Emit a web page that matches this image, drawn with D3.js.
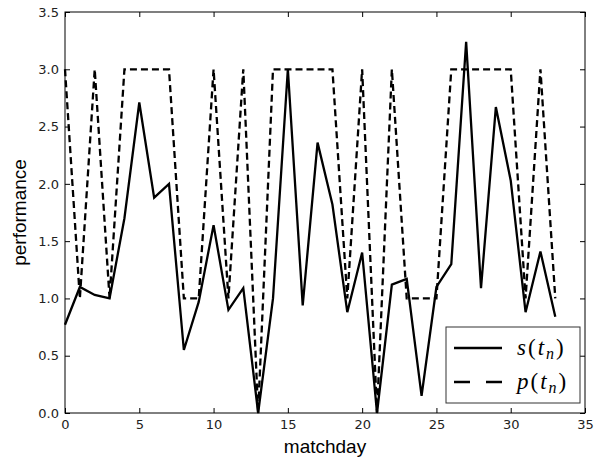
<!DOCTYPE html>
<html>
<head>
<meta charset="utf-8">
<script src="https://cdn.jsdelivr.net/npm/d3@7"></script>
<style>
  body { margin: 0; background: #fff; }
  svg { display: block; }
</style>
</head>
<body>
<div id="chart"></div>
<script>
// matchdays 0..33
const matchdays = d3.range(0, 34);

// s(t_n) - solid line
const sValues = [0.77, 1.10, 1.03, 1.00, 1.70, 2.71, 1.88, 2.00, 0.55, 0.97,
                 1.64, 0.90, 1.09, 0.00, 1.00, 3.00, 0.94, 2.36, 1.82, 0.88,
                 1.40, 0.00, 1.12, 1.17, 0.15, 1.10, 1.30, 3.24, 1.09, 2.67,
                 2.03, 0.88, 1.41, 0.84];

// p(t_n) - dashed line
const pValues = [3, 1, 3, 1, 3, 3, 3, 3, 1, 1,
                 3, 1, 3, 0, 3, 3, 3, 3, 3, 1,
                 3, 0, 3, 1, 1, 1, 3, 3, 3, 3,
                 3, 1, 3, 1];

const xTicks = [0, 5, 10, 15, 20, 25, 30, 35];
const yTicks = [0, 0.5, 1, 1.5, 2, 2.5, 3, 3.5];

const W = 609, H = 463;
const margin = { top: 12, right: 24, bottom: 50, left: 65 };
const width = W - margin.left - margin.right;
const height = H - margin.top - margin.bottom;

const svg = d3.select("#chart").append("svg")
    .attr("width", W)
    .attr("height", H);

const g = svg.append("g")
    .attr("transform", `translate(${margin.left},${margin.top})`);

const x = d3.scaleLinear().domain([0, 35]).range([0, width]);
const y = d3.scaleLinear().domain([0, 3.5]).range([height, 0]);

const tickFont = "DejaVu Sans, sans-serif";
const labelFont = "Liberation Sans, Arial, sans-serif";

// axes with inward ticks
function styleAxis(sel, showText) {
    sel.select(".domain").remove();
    sel.selectAll(".tick line").attr("stroke", "#000").attr("stroke-width", 1);
    sel.selectAll(".tick text")
        .attr("font-family", tickFont)
        .attr("font-size", 13)
        .attr("fill", "#222")
        .style("display", showText ? null : "none");
}

g.append("g")
    .attr("transform", `translate(0,${height})`)
    .call(d3.axisBottom(x).tickValues(xTicks).tickFormat(d3.format("d"))
        .tickSizeInner(-5).tickSizeOuter(0).tickPadding(7))
    .call(s => styleAxis(s, true));

g.append("g")
    .call(d3.axisTop(x).tickValues(xTicks).tickSizeInner(-5).tickSizeOuter(0))
    .call(s => styleAxis(s, false));

g.append("g")
    .call(d3.axisLeft(y).tickValues(yTicks).tickFormat(d3.format(".1f"))
        .tickSizeInner(-5).tickSizeOuter(0).tickPadding(6))
    .call(s => styleAxis(s, true));

g.append("g")
    .attr("transform", `translate(${width},0)`)
    .call(d3.axisRight(y).tickValues(yTicks).tickSizeInner(-5).tickSizeOuter(0))
    .call(s => styleAxis(s, false));

// lines
const sData = matchdays.map((d, i) => ({ x: d, y: sValues[i] }));
const pData = matchdays.map((d, i) => ({ x: d, y: pValues[i] }));

const line = d3.line().x(d => x(d.x)).y(d => y(d.y));

g.append("path")
    .datum(pData)
    .attr("fill", "none")
    .attr("stroke", "#000")
    .attr("stroke-width", 2.3)
    .attr("stroke-dasharray", "7,4")
    .attr("d", line);

g.append("path")
    .datum(sData)
    .attr("fill", "none")
    .attr("stroke", "#000")
    .attr("stroke-width", 2.3)
    .attr("d", line);

// frame
g.append("rect")
    .attr("width", width)
    .attr("height", height)
    .attr("fill", "none")
    .attr("stroke", "#000")
    .attr("stroke-width", 1);

// axis labels
svg.append("text")
    .attr("x", margin.left + width / 2)
    .attr("y", 453)
    .attr("text-anchor", "middle")
    .attr("font-family", labelFont)
    .attr("font-size", 19)
    .text("matchday");

svg.append("text")
    .attr("transform", `translate(26,${margin.top + height / 2}) rotate(-90)`)
    .attr("text-anchor", "middle")
    .attr("font-family", labelFont)
    .attr("font-size", 19)
    .text("performance");

// legend
const legend = svg.append("g").attr("transform", "translate(446,327)");
legend.append("rect")
    .attr("width", 134)
    .attr("height", 76)
    .attr("fill", "#fff")
    .attr("stroke", "#333")
    .attr("stroke-width", 1);

const items = [
    { name: "s", dash: null, yy: 21 },
    { name: "p", dash: "16,16", yy: 55 }
];

items.forEach(it => {
    legend.append("line")
        .attr("x1", 8).attr("x2", 56)
        .attr("y1", it.yy).attr("y2", it.yy)
        .attr("stroke", "#000")
        .attr("stroke-width", 2.6)
        .attr("stroke-dasharray", it.dash);
    const t = legend.append("text")
        .attr("x", 71)
        .attr("y", it.yy + 7)
        .attr("font-family", "Liberation Serif, serif")
        .attr("font-size", 23)
        .attr("letter-spacing", 2);
    t.append("tspan").attr("font-style", "italic").text(it.name);
    t.append("tspan").text("(");
    t.append("tspan").attr("font-style", "italic").text("t");
    t.append("tspan").attr("font-style", "italic").attr("font-size", 16).attr("dy", 4).text("n");
    t.append("tspan").attr("dy", -4).text(")");
});
</script>
</body>
</html>
